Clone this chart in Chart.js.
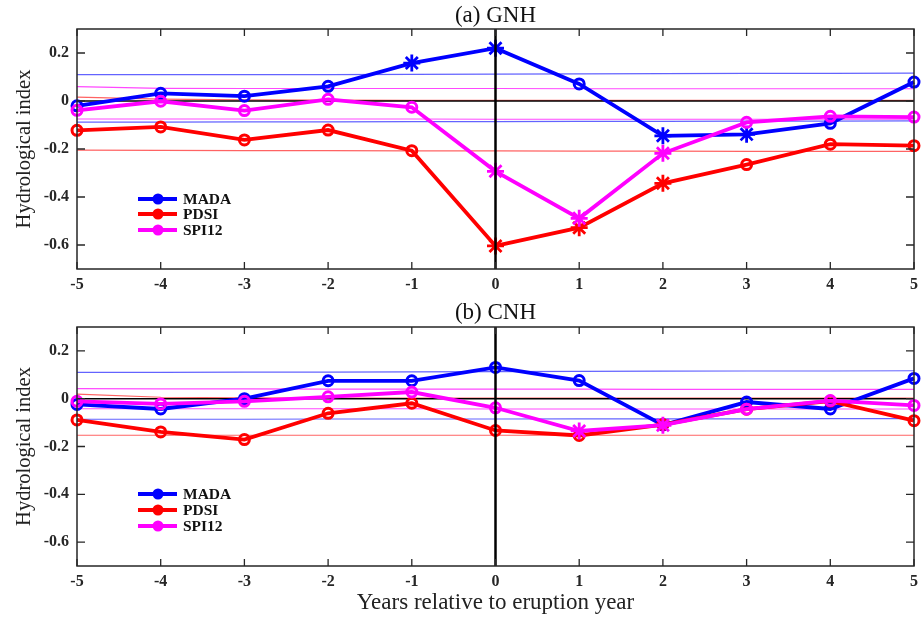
<!DOCTYPE html>
<html><head><meta charset="utf-8">
<script src="https://cdn.jsdelivr.net/npm/chart.js@4.4.1/dist/chart.umd.min.js"></script>
<style>
html,body{margin:0;padding:0;background:#fff;width:924px;height:617px;overflow:hidden}
canvas{position:absolute;left:0}
#c1{top:0}
#c2{top:290px}
</style></head>
<body>
<canvas id="c1" width="924" height="290"></canvas>
<canvas id="c2" width="924" height="327"></canvas>
<script>
// ---------- data ----------
const years = [-5,-4,-3,-2,-1,0,1,2,3,4,5];
const xTickLabels = ['-5','-4','-3','-2','-1','0','1','2','3','4','5'];
const yTicks = [0.2,0,-0.2,-0.4,-0.6];
const yTickLabels = ['0.2','0','-0.2','-0.4','-0.6'];
const seriesNames = ['MADA','PDSI','SPI12'];
const eruptionYear = 0;
const zeroRefX = [-5,5];
const zeroRefY = [0,0];

// (a) GNH
const gnhMada = [-0.020, 0.032, 0.020, 0.061, 0.158, 0.220, 0.071, -0.145, -0.139, -0.093, 0.079];
const gnhPdsi = [-0.122,-0.108,-0.162,-0.121,-0.207,-0.604,-0.528,-0.343,-0.265,-0.180,-0.186];
const gnhSpi  = [-0.039,-0.001,-0.040, 0.007,-0.026,-0.293,-0.489,-0.218,-0.089,-0.064,-0.067];
const gnhMadaSig = [-1,0,2,3];
const gnhPdsiSig = [0,1,2];
const gnhSpiSig  = [0,1,2];
const gnhMadaHi = [0.110,0.110,0.110,0.110,0.111,0.112,0.113,0.114,0.115,0.115,0.116];
const gnhMadaLo = [-0.088,-0.088,-0.087,-0.087,-0.086,-0.086,-0.085,-0.085,-0.084,-0.084,-0.083];
const gnhSpiHi  = [0.060,0.053,0.052,0.052,0.052,0.052,0.051,0.051,0.051,0.051,0.051];
const gnhSpiLo  = [-0.075,-0.075,-0.075,-0.075,-0.075,-0.076,-0.076,-0.076,-0.076,-0.076,-0.076];
const gnhPdsiHi = [0.016,0.008,0.005,0.004,0.003,0.003,0.003,0.003,0.003,0.003,0.003];
const gnhPdsiLo = [-0.205,-0.206,-0.207,-0.207,-0.208,-0.208,-0.209,-0.209,-0.210,-0.210,-0.210];

// (b) CNH
const cnhMada = [-0.024,-0.043, 0.000, 0.075, 0.075, 0.131, 0.076,-0.110,-0.014,-0.043, 0.085];
const cnhPdsi = [-0.089,-0.139,-0.171,-0.061,-0.019,-0.133,-0.154,-0.108,-0.044,-0.010,-0.092];
const cnhSpi  = [-0.011,-0.022,-0.011, 0.008, 0.028,-0.038,-0.135,-0.111,-0.044,-0.008,-0.028];
const cnhMadaSig = [];
const cnhPdsiSig = [];
const cnhSpiSig  = [1,2];
const cnhMadaHi = [0.110,0.110,0.111,0.111,0.112,0.113,0.114,0.115,0.116,0.116,0.117];
const cnhMadaLo = [-0.086,-0.086,-0.086,-0.085,-0.085,-0.085,-0.084,-0.084,-0.084,-0.083,-0.083];
const cnhSpiHi  = [0.042,0.041,0.041,0.040,0.040,0.040,0.040,0.039,0.039,0.039,0.039];
const cnhSpiLo  = [-0.042,-0.042,-0.042,-0.042,-0.042,-0.043,-0.043,-0.043,-0.043,-0.043,-0.043];
const cnhPdsiHi = [0.019,0.006,0.004,0.003,0.003,0.003,0.003,0.003,0.003,0.003,0.003];
const cnhPdsiLo = [-0.153,-0.153,-0.153,-0.153,-0.153,-0.153,-0.153,-0.153,-0.153,-0.153,-0.153];

// ---------- styling ----------
const SERIF = "'Liberation Serif','DejaVu Serif',serif";
const AXC = '#262626';
const colors = {MADA:'#0000ff', PDSI:'#ff0000', SPI12:'#ff00ff'};
const thrColors = {MADA:'rgba(60,60,255,0.8)', PDSI:'rgba(255,60,60,0.8)', SPI12:'rgba(255,40,255,0.85)'};

function pts(vals){ return years.map((x,i)=>({x:x, y:vals[i]})); }

function seriesDs(name, vals, sig, order){
  const c = colors[name];
  return {
    label:name, data:pts(vals), borderColor:c, borderWidth:3.8, order:order, clip:false,
    pointStyle: years.map(x=> sig.includes(x)?'star':'circle'),
    pointRadius: years.map(x=> sig.includes(x)?8.5:5),
    pointBorderWidth: years.map(x=> sig.includes(x)?2.8:3),
    pointBackgroundColor:'rgba(0,0,0,0)', pointBorderColor:c, tension:0
  };
}
function thrDs(name, vals){
  return {data:pts(vals), borderColor:thrColors[name], borderWidth:1.2, pointRadius:0, order:20, tension:0};
}

const framePlugin = {
  id:'frame',
  afterDatasetsDraw(chart, args, o){
    const {ctx, chartArea:a, scales:{x,y}} = chart;
    ctx.save();
    // eruption year vertical line
    const px = x.getPixelForValue(eruptionYear);
    ctx.strokeStyle='#000'; ctx.lineWidth=2.5;
    ctx.beginPath(); ctx.moveTo(px,a.top); ctx.lineTo(px,a.bottom); ctx.stroke();
    // box
    ctx.strokeStyle=AXC; ctx.lineWidth=1.5;
    ctx.strokeRect(a.left,a.top,a.right-a.left,a.bottom-a.top);
    ctx.lineWidth=1.3;
    ctx.beginPath();
    x.ticks.forEach(t=>{
      const p = x.getPixelForValue(t.value);
      ctx.moveTo(p,a.bottom); ctx.lineTo(p,a.bottom-7);
      ctx.moveTo(p,a.top); ctx.lineTo(p,a.top+7);
    });
    y.ticks.forEach(t=>{
      const p = y.getPixelForValue(t.value);
      ctx.moveTo(a.left,p); ctx.lineTo(a.left+8,p);
      ctx.moveTo(a.right,p); ctx.lineTo(a.right-8,p);
    });
    ctx.stroke();
    // legend
    const items = chart.data.datasets.filter(d=>d.label);
    items.sort((p,q)=>seriesNames.indexOf(p.label)-seriesNames.indexOf(q.label));
    items.forEach((d,i)=>{
      const ly = o.legendY[i];
      ctx.strokeStyle=d.borderColor; ctx.fillStyle=d.borderColor; ctx.lineWidth=4;
      ctx.beginPath(); ctx.moveTo(138,ly); ctx.lineTo(177,ly); ctx.stroke();
      ctx.beginPath(); ctx.arc(158,ly,5.5,0,Math.PI*2); ctx.fill();
      ctx.fillStyle='#111'; ctx.font="bold 15.5px "+SERIF; ctx.textBaseline='middle'; ctx.textAlign='left';
      ctx.fillText(d.label,183,ly+1);
    });
    // panel title
    ctx.fillStyle='#111'; ctx.font="23px "+SERIF; ctx.textAlign='center'; ctx.textBaseline='alphabetic';
    ctx.fillText(o.title,(a.left+a.right)/2,o.titleY);
    ctx.restore();
  }
};

function build(id, cfg){
  const ds = [
    seriesDs('SPI12', cfg.spi, cfg.spiSig, 0),
    seriesDs('PDSI', cfg.pdsi, cfg.pdsiSig, 1),
    seriesDs('MADA', cfg.mada, cfg.madaSig, 2),
    {data: zeroRefX.map((x,i)=>({x:x,y:zeroRefY[i]})), borderColor:'#000', borderWidth:1.5, pointRadius:0, order:5},
    thrDs('MADA', cfg.madaHi), thrDs('MADA', cfg.madaLo),
    thrDs('SPI12', cfg.spiHi), thrDs('SPI12', cfg.spiLo),
    thrDs('PDSI', cfg.pdsiHi), thrDs('PDSI', cfg.pdsiLo)
  ];
  return new Chart(document.getElementById(id), {
    type:'line',
    data:{datasets:ds},
    plugins:[framePlugin],
    options:{
      responsive:false, animation:false,
      layout:{padding:{top:cfg.padTop, right:10, left:0, bottom:0}},
      plugins:{legend:{display:false}, tooltip:{enabled:false},
        frame:{title:cfg.title, titleY:cfg.titleY, legendY:cfg.legendY}},
      scales:{
        x:{type:'linear', min:-5, max:5,
          afterBuildTicks:s=>{ s.ticks = years.map(v=>({value:v})); },
          afterFit:s=>{ s.height = cfg.xHeight; },
          ticks:{callback:(v,i)=>xTickLabels[i], font:{family:SERIF, size:16, weight:'bold'}, color:AXC, padding:6, maxRotation:0, autoSkip:false},
          grid:{display:false, drawTicks:false}, border:{display:false},
          title:{display:cfg.showXTitle, text:'Years relative to eruption year', font:{family:SERIF, size:23}, color:'#222', padding:{top:0,bottom:0}}
        },
        y:{type:'linear', min:-0.7, max:0.3,
          afterBuildTicks:s=>{ s.ticks = yTicks.map(v=>({value:v})); },
          afterFit:s=>{ s.width = 77; },
          ticks:{callback:(v,i)=>yTickLabels[i], font:{family:SERIF, size:16, weight:'bold'}, color:AXC, padding:8, autoSkip:false},
          grid:{display:false, drawTicks:false}, border:{display:false},
          title:{display:true, text:'Hydrological index', font:{family:SERIF, size:20.5}, color:'#222', padding:{top:12, bottom:0}}
        }
      }
    }
  });
}

build('c1', {title:'(a) GNH', titleY:22, padTop:29, xHeight:21, showXTitle:false, legendY:[199,214,230],
  mada:gnhMada, pdsi:gnhPdsi, spi:gnhSpi, madaSig:gnhMadaSig, pdsiSig:gnhPdsiSig, spiSig:gnhSpiSig,
  madaHi:gnhMadaHi, madaLo:gnhMadaLo, spiHi:gnhSpiHi, spiLo:gnhSpiLo, pdsiHi:gnhPdsiHi, pdsiLo:gnhPdsiLo});
build('c2', {title:'(b) CNH', titleY:29, padTop:37, xHeight:51, showXTitle:true, legendY:[204,220,236],
  mada:cnhMada, pdsi:cnhPdsi, spi:cnhSpi, madaSig:cnhMadaSig, pdsiSig:cnhPdsiSig, spiSig:cnhSpiSig,
  madaHi:cnhMadaHi, madaLo:cnhMadaLo, spiHi:cnhSpiHi, spiLo:cnhSpiLo, pdsiHi:cnhPdsiHi, pdsiLo:cnhPdsiLo});
</script>
</body></html>
